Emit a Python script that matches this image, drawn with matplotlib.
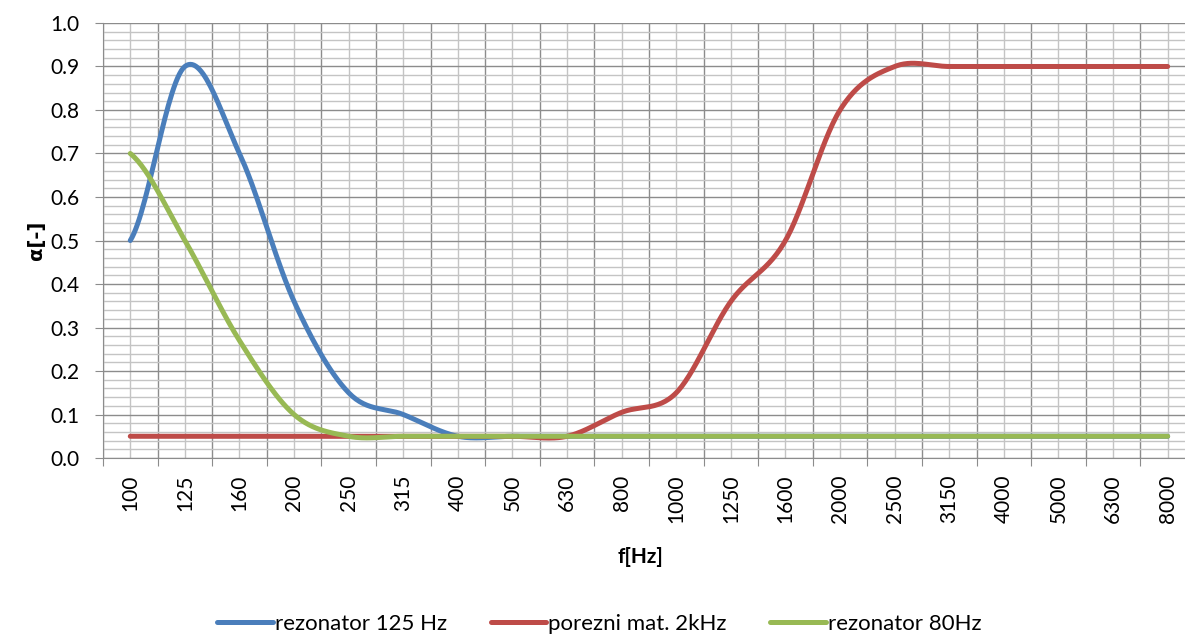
import numpy as np
import matplotlib
matplotlib.use("Agg")
import matplotlib.pyplot as plt
from matplotlib.ticker import MultipleLocator, FixedLocator, NullFormatter

plt.rcParams['font.family'] = ['Lato', 'DejaVu Sans']

# third-octave bands
freqs = ['100', '125', '160', '200', '250', '315', '400', '500', '630', '800',
         '1000', '1250', '1600', '2000', '2500', '3150', '4000', '5000', '6300', '8000']

rez125 = [0.50, 0.90, 0.70, 0.36, 0.15, 0.10, 0.05, 0.05, 0.05, 0.05,
          0.05, 0.05, 0.05, 0.05, 0.05, 0.05, 0.05, 0.05, 0.05, 0.05]
porezni = [0.05, 0.05, 0.05, 0.05, 0.05, 0.05, 0.05, 0.05, 0.05, 0.105,
           0.15, 0.36, 0.50, 0.80, 0.90, 0.90, 0.90, 0.90, 0.90, 0.90]
rez80 = [0.70, 0.50, 0.27, 0.10, 0.05, 0.05, 0.05, 0.05, 0.05, 0.05,
         0.05, 0.05, 0.05, 0.05, 0.05, 0.05, 0.05, 0.05, 0.05, 0.05]

labels = ['rezonator 125 Hz', 'porezni mat. 2kHz', 'rezonator 80Hz']
colors = ['#4A7EBB', '#BE4B48', '#98B954']


def smooth(y, n=30):
    # catmull-rom, like excel's "smoothed line"
    y = np.asarray(y, dtype=float)
    x = np.arange(len(y), dtype=float)
    m = np.zeros_like(y)
    m[1:-1] = (y[2:] - y[:-2]) / 2
    m[0] = (y[1] - y[0]) / 2
    m[-1] = (y[-1] - y[-2]) / 2
    xs, ys = [], []
    t = np.linspace(0, 1, n, endpoint=False)
    h00 = 2*t**3 - 3*t**2 + 1
    h10 = t**3 - 2*t**2 + t
    h01 = -2*t**3 + 3*t**2
    h11 = t**3 - t**2
    for i in range(len(y) - 1):
        xs.append(x[i] + t)
        ys.append(h00*y[i] + h10*m[i] + h01*y[i+1] + h11*m[i+1])
    xs.append([x[-1]])
    ys.append([y[-1]])
    return np.concatenate(xs), np.concatenate(ys)


fig = plt.figure(figsize=(11.85, 6.35), dpi=100)
ax = fig.add_axes([0.0869, 0.2787, 0.9215, 0.6851])

for vals, lab, c in zip([rez125, porezni, rez80], labels, colors):
    xs, ys = smooth(vals)
    ax.plot(xs, ys, color=c, lw=3.6, label=lab, solid_capstyle='round', zorder=3)

ax.set_xlim(-0.5, len(freqs) - 0.5)
ax.set_ylim(0, 1.0)

ax.xaxis.set_major_locator(FixedLocator(np.arange(len(freqs) + 1) - 0.5))
ax.xaxis.set_major_formatter(NullFormatter())
ax.xaxis.set_minor_locator(FixedLocator(np.arange(len(freqs))))
ax.set_xticks(np.arange(len(freqs)), freqs, minor=True, rotation=90)
ax.yaxis.set_major_locator(MultipleLocator(0.1))
ax.yaxis.set_minor_locator(MultipleLocator(0.02))
ax.yaxis.set_major_formatter(plt.FuncFormatter(lambda v, p: '%.1f' % v))

ax.grid(True, which='major', color='#8c8c8c', lw=1.0, zorder=1)
ax.grid(True, which='minor', color='#c4c4c4', lw=1.0, zorder=0)
ax.set_axisbelow(True)

ax.tick_params(axis='x', which='major', length=6, color='#8c8c8c', direction='out')
ax.tick_params(axis='x', which='minor', length=0, pad=12, labelsize=15)
ax.tick_params(axis='y', which='major', length=6, color='#8c8c8c', pad=11, labelsize=15)
ax.tick_params(axis='y', which='minor', length=0)

for s in ['top', 'right']:
    ax.spines[s].set_visible(False)
for s in ['left', 'bottom']:
    ax.spines[s].set_color('#8c8c8c')

ax.set_xlabel('f[Hz]', fontsize=15, fontweight='bold')
ax.xaxis.set_label_coords(0.492, -0.205)
ax.set_ylabel('α[-]', fontsize=14, fontweight='bold', family=['DejaVu Sans'])
ax.yaxis.set_label_coords(-0.052, 0.5)

fig.legend(loc='center', bbox_to_anchor=(0.506, 0.018), ncol=3, frameon=False,
           fontsize=16, handlelength=2.5, handletextpad=0.1, columnspacing=1.95)

fig.savefig('out.png', dpi=100)
